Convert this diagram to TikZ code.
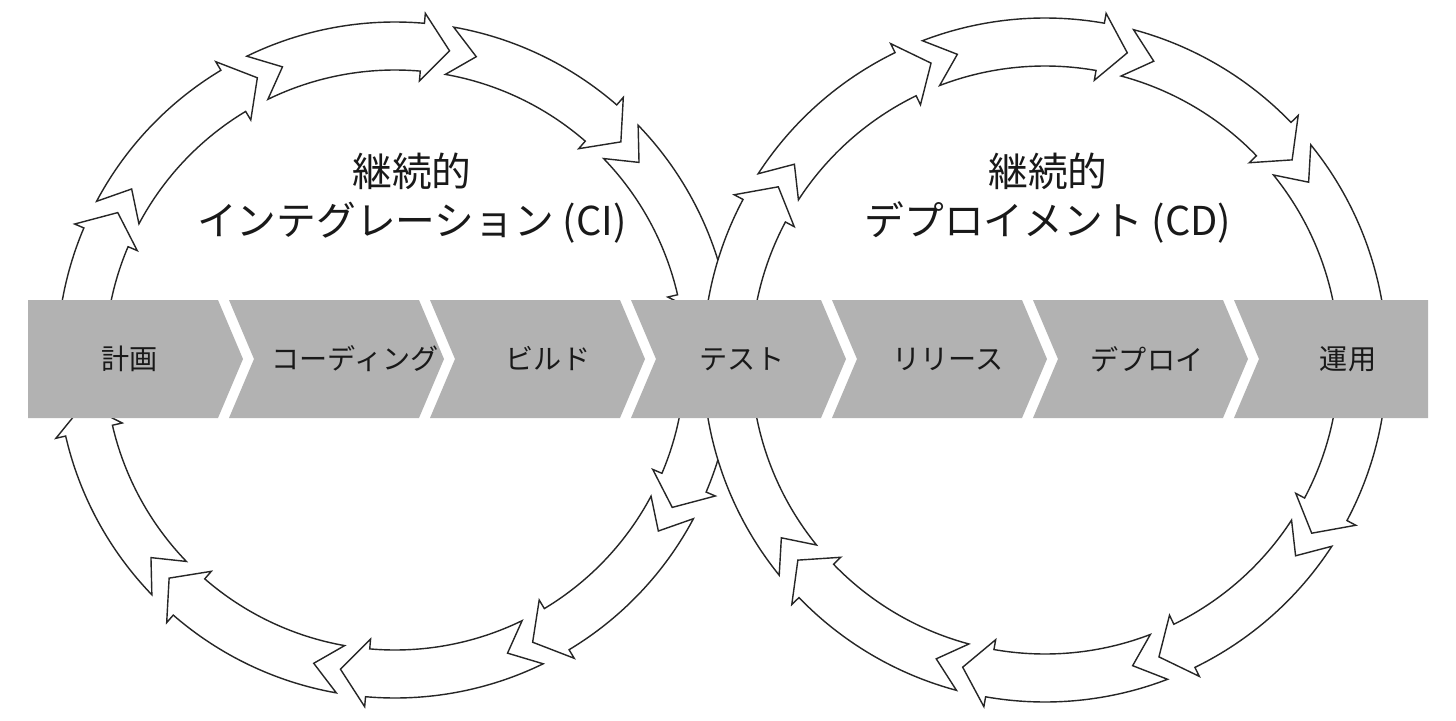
\documentclass[tikz,border=0pt]{standalone}
\usepackage{fontspec}
\setmainfont{Noto Sans CJK JP}
\begin{document}
\begin{tikzpicture}[x=0.01cm,y=0.01cm,
  seg/.style={fill=white,draw=black!85,line width=0.4pt,line join=miter},
  chev/.style={fill=black!30,draw=none},
  lab/.style={font=\fontsize{8}{9}\selectfont,text=black!90},
  ttl/.style={font=\fontsize{11.3}{14}\selectfont,align=center,text=black!90}]
\useasboundingbox (0,0) rectangle (1456,720);
\fill[white] (0,0) rectangle (1456,720);
% rings
\foreach \cx/\R/\r/\off in {395/338/290/80, 1045/342/294/75}{
 \begin{scope}[shift={(\cx,360)}]
  \pgfmathsetmacro{\m}{(\R+\r)/2}
  \pgfmathsetmacro{\Ro}{\R+10}
  \pgfmathsetmacro{\ri}{\r-10}
  \foreach \k in {0,...,9}{
   \pgfmathsetmacro{\s}{\off-36*\k}
   \pgfmathsetmacro{\e}{\s-31}
   \pgfmathsetmacro{\p}{\e-5}
   \pgfmathsetmacro{\n}{\s-5}
   \draw[seg] (\s:\R) arc[start angle=\s,end angle=\e,radius=\R]
     -- (\e:\Ro) -- (\p:\m) -- (\e:\ri) -- (\e:\r)
     arc[start angle=\e,end angle=\s,radius=\r] -- (\n:\m) -- cycle;
  }
 \end{scope}
}
% band
\foreach \i in {0,...,6}{
 \pgfmathsetmacro{\x}{28+201*\i}
 \pgfmathsetmacro{\xh}{\x+190}
 \pgfmathsetmacro{\xp}{\x+215}
 \pgfmathsetmacro{\xn}{\x+25}
 \ifnum\i=0
  \fill[chev] (\x,302) -- (\xh,302) -- (\xp,361) -- (\xh,420) -- (\x,420) -- cycle;
 \else\ifnum\i=6
  \fill[chev] (\x,302) -- (1428,302) -- (1428,420) -- (\x,420) -- (\xn,361) -- cycle;
 \else
  \fill[chev] (\x,302) -- (\xh,302) -- (\xp,361) -- (\xh,420) -- (\x,420) -- (\xn,361) -- cycle;
 \fi\fi
}
\foreach \i/\xx/\t in {a/130/計画,b/355/コーディング,c/548/ビルド,d/742/テスト,e/948/リリース,f/1147/デプロイ,g/1348/運用}{
 \node[lab] (\i) at (\xx,361) {\t};
}
\node[ttl] (ci) at (412,522) {継続的\\インテグレーション (CI)};
\node[ttl] (cd) at (1048,522) {継続的\\デプロイメント (CD)};
\end{tikzpicture}
\end{document}
